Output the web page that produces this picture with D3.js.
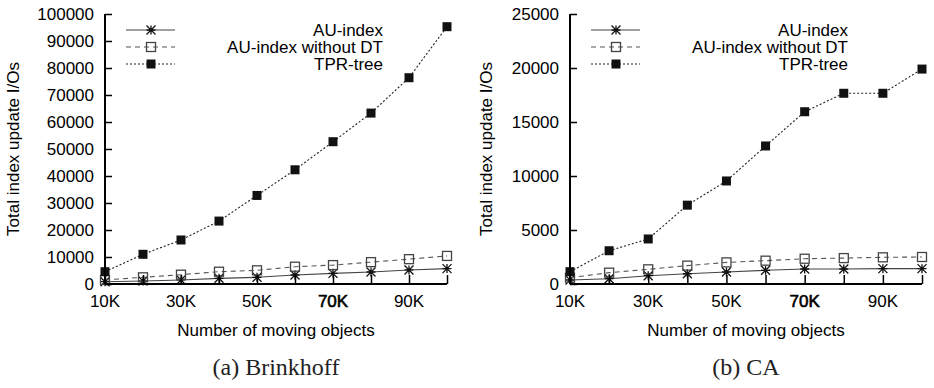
<!DOCTYPE html>
<html>
<head>
<meta charset="utf-8">
<script src="https://cdn.jsdelivr.net/npm/d3@7"></script>
<style>
  body { margin: 0; background: #fff; }
  text { font-family: "Liberation Sans", Arial, sans-serif; }
</style>
</head>
<body>
<script>
// x values (thousands of moving objects) and labels
var xValues = [10, 20, 30, 40, 50, 60, 70, 80, 90, 100];
var xTickValues = [10, 30, 50, 70, 90];
var seriesNames = ["AU-index", "AU-index without DT", "TPR-tree"];

// (a) Brinkhoff
var brinkhoffAU     = [850, 1100, 1500, 2100, 2480, 3330, 3950, 4440, 5200, 5700];
var brinkhoffNoDT   = [1500, 2480, 3450, 4550, 5070, 6400, 7000, 8100, 9200, 10400];
var brinkhoffTPR    = [4550, 11000, 16300, 23300, 32800, 42300, 52700, 63300, 76400, 95300];
var brinkhoffYTicks = [0, 10000, 20000, 30000, 40000, 50000, 60000, 70000, 80000, 90000, 100000];

// (b) CA
var caAU     = [370, 490, 770, 950, 1110, 1270, 1390, 1390, 1420, 1420];
var caNoDT   = [580, 1050, 1360, 1700, 2000, 2160, 2340, 2400, 2470, 2500];
var caTPR    = [1140, 3080, 4170, 7300, 9540, 12780, 15950, 17660, 17660, 19900];
var caYTicks = [0, 5000, 10000, 15000, 20000, 25000];

var width = 934, height = 388,
	plotTop = 14, plotBottom = 284;

var svg = d3.select("body").append("svg")
	.attr("width", width)
	.attr("height", height);

// line styles per series
var styles = [
	{stroke: "#444", dash: null, marker: "star"},
	{stroke: "#555", dash: "5,4", marker: "open"},
	{stroke: "#222", dash: "2,2", marker: "filled"}
];

function drawMarker(g, type, x, y) {
	if (type == "star") {
		var s = 4.5;
		g.append("path")
			.attr("d", "M" + (x - s) + "," + y + "H" + (x + s) +
				"M" + x + "," + (y - s) + "V" + (y + s) +
				"M" + (x - s) + "," + (y - s) + "L" + (x + s) + "," + (y + s) +
				"M" + (x - s) + "," + (y + s) + "L" + (x + s) + "," + (y - s))
			.style("stroke", "#111")
			.style("stroke-width", 1.3)
			.style("fill", "none");
	} else if (type == "open") {
		g.append("rect")
			.attr("x", x - 4.5).attr("y", y - 4.5)
			.attr("width", 9).attr("height", 9)
			.style("fill", "none")
			.style("stroke", "#444")
			.style("stroke-width", 1.3);
	} else {
		g.append("rect")
			.attr("x", x - 4.5).attr("y", y - 4.5)
			.attr("width", 9).attr("height", 9)
			.style("fill", "#111");
	}
}

function drawPanel(p) {
	var xScale = d3.scaleLinear().domain([10, 100]).range([p.left, p.right]);
	var yScale = d3.scaleLinear().domain([0, p.yMax]).range([plotBottom, plotTop]);
	var g = svg.append("g");

	// series lines + markers
	p.series.forEach(function(values, i) {
		var line = d3.line()
			.x(function(d, j) { return xScale(xValues[j]); })
			.y(function(d) { return yScale(d); });
		g.append("path")
			.datum(values)
			.attr("d", line)
			.style("fill", "none")
			.style("stroke", styles[i].stroke)
			.style("stroke-width", 1.1)
			.style("stroke-dasharray", styles[i].dash);
		values.forEach(function(v, j) {
			drawMarker(g, styles[i].marker, xScale(xValues[j]), yScale(v));
		});
	});

	// y axis
	var yAxis = d3.axisRight(yScale)
		.tickValues(p.yTicks)
		.tickSize(7)
		.tickFormat("");
	var ya = g.append("g")
		.attr("transform", "translate(" + p.left + ",0)")
		.call(yAxis);
	ya.select(".domain").attr("d", "M0," + plotTop + "V" + plotBottom).style("stroke-width", 2);
	ya.selectAll(".tick line").style("stroke-width", 1.5);
	g.selectAll(".ylab")
		.data(p.yTicks)
		.enter().append("text")
		.attr("x", p.left - 11)
		.attr("y", function(d) { return yScale(d) + 6; })
		.attr("text-anchor", "end")
		.style("font-size", "17px")
		.text(function(d) { return d; });

	// x axis
	var xAxis = d3.axisTop(xScale)
		.tickValues(xValues)
		.tickSize(9)
		.tickFormat("");
	var xa = g.append("g")
		.attr("transform", "translate(0," + plotBottom + ")")
		.call(xAxis);
	xa.select(".domain").attr("d", "M" + p.left + ",0H" + p.right).style("stroke-width", 2);
	xa.selectAll(".tick line").style("stroke-width", 1.5);
	// the 70K label looks heavier in the original, fake it with a thin stroke
	g.selectAll(".xlab")
		.data(xTickValues)
		.enter().append("text")
		.attr("x", function(d) { return xScale(d); })
		.attr("y", 306.5)
		.attr("text-anchor", "middle")
		.style("font-size", "17px")
		.style("stroke", function(d) { return d == 70 ? "#000" : "none"; })
		.style("stroke-width", 0.6)
		.text(function(d) { return d + "K"; });

	// axis titles
	g.append("text")
		.attr("transform", "translate(" + p.yTitleX + "," + ((plotTop + plotBottom) / 2) + ") rotate(-90)")
		.attr("text-anchor", "middle")
		.style("font-size", "17px")
		.text("Total index update I/Os");
	g.append("text")
		.attr("x", (p.left + p.right) / 2)
		.attr("y", 336)
		.attr("text-anchor", "middle")
		.style("font-size", "17px")
		.text("Number of moving objects");

	// caption
	g.append("text")
		.attr("x", (p.left + p.right) / 2)
		.attr("y", 375)
		.attr("text-anchor", "middle")
		.style("font-family", "'Liberation Serif', 'Times New Roman', serif")
		.style("font-size", "24px")
		.style("fill", "#222")
		.text(p.caption);

	// legend
	seriesNames.forEach(function(name, i) {
		var ly = 30 + i * 17;
		g.append("line")
			.attr("x1", p.left + 21).attr("x2", p.left + 70)
			.attr("y1", ly).attr("y2", ly)
			.style("stroke", styles[i].stroke)
			.style("stroke-width", 1.1)
			.style("stroke-dasharray", styles[i].dash);
		drawMarker(g, styles[i].marker, p.left + 46, ly);
		g.append("text")
			.attr("x", p.left + 278)
			.attr("y", ly + 6)
			.attr("text-anchor", "end")
			.style("font-size", "17px")
			.text(name);
	});
}

drawPanel({
	left: 105, right: 447, yMax: 100000, yTicks: brinkhoffYTicks,
	series: [brinkhoffAU, brinkhoffNoDT, brinkhoffTPR],
	yTitleX: 19, caption: "(a) Brinkhoff"
});

drawPanel({
	left: 570, right: 922, yMax: 25000, yTicks: caYTicks,
	series: [caAU, caNoDT, caTPR],
	yTitleX: 492, caption: "(b) CA"
});
</script>
</body>
</html>
